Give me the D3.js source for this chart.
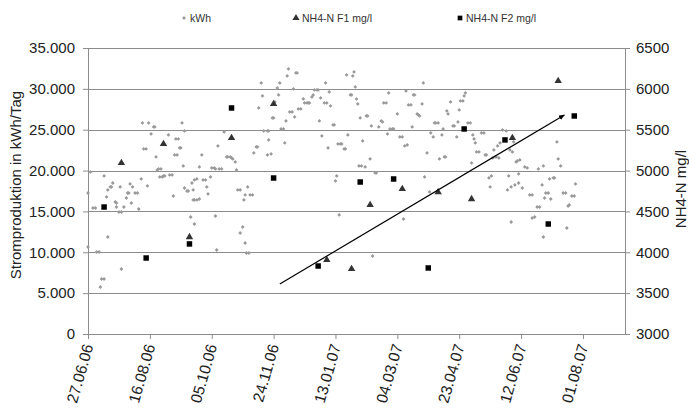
<!DOCTYPE html>
<html lang="de">
<head>
<meta charset="UTF-8">
<title>Stromproduktion und NH4-N</title>
<style>
    body{
        margin:0;
        background:#fff;
    }
    svg text{
        font-family:"Liberation Sans", Arial, sans-serif;
        fill:#222;
    }
</style>
</head>
<body>
<script src="https://d3js.org/d3.v7.min.js"></script>
<script>

    var tickLabels = ["27.06.06","16.08.06","05.10.06","24.11.06","13.01.07","04.03.07","23.04.07","12.06.07","01.08.07"];
    var kwhTicks = [0,5000,10000,15000,20000,25000,30000,35000];
    var nh4Ticks = [3000,3500,4000,4500,5000,5500,6000,6500];
    var seriesNames = ["kWh","NH4-N F1 mg/l","NH4-N F2 mg/l"];

    // [days since 27.06.06, kWh/Tag]
    var kwh = [[0,17258],[0,10649],[2,19829],[4,15422],[6,15422],[7,10037],[9,10037],[10,5753],[11,6732],[13,6732],[13,19339],[15,16769],[16,17626],[16,11873],[18,17993],[19,17993],[20,18482],[22,16157],[23,16034],[23,15545],[25,14933],[26,17993],[27,14933],[27,7956],[29,15545],[31,16646],[32,17258],[33,17258],[34,18360],[35,16034],[36,17993],[38,17258],[40,17258],[41,15300],[43,18972],[44,25826],[45,22644],[47,22644],[48,18115],[49,25826],[51,24480],[53,25337],[54,25337],[55,21665],[56,20074],[57,20196],[58,19217],[59,20196],[60,19217],[61,19339],[62,19339],[65,24358],[66,19462],[68,19462],[69,16891],[70,21910],[71,23868],[72,21910],[73,23868],[74,22766],[75,22766],[76,25826],[77,20563],[78,24847],[78,17870],[80,17503],[81,17503],[83,14321],[84,18482],[85,17626],[85,16402],[86,16402],[86,13464],[86,18850],[88,16402],[88,18972],[90,16524],[90,20441],[92,21910],[93,18850],[95,18850],[96,17993],[97,17136],[99,19217],[100,20318],[102,20318],[103,20196],[103,14443],[104,10282],[105,23011],[106,20196],[108,20196],[110,24725],[112,21665],[113,21665],[115,21665],[116,21542],[117,21420],[119,21053],[120,20074],[121,17626],[123,17626],[123,12362],[125,13097],[126,16402],[127,11138],[127,17014],[128,9914],[129,17993],[130,9914],[131,17014],[133,17014],[134,22154],[136,22889],[137,22889],[138,27662],[140,30722],[141,29131],[142,24847],[145,24847],[146,24847],[145,21910],[146,23746],[148,22032],[149,26438],[150,26438],[151,28397],[153,30110],[154,29254],[155,30722],[156,25092],[158,25092],[159,23378],[160,26071],[161,31579],[162,32436],[163,27173],[165,27173],[166,29988],[167,26561],[168,31946],[169,31946],[170,27540],[172,27540],[174,28764],[175,28274],[177,28274],[178,28274],[179,28274],[181,29009],[182,29254],[183,29866],[185,29866],[186,29866],[187,26071],[188,28886],[189,24235],[191,28274],[192,30722],[193,28274],[194,22766],[195,29621],[196,27907],[198,25582],[199,25582],[200,18727],[201,19339],[202,23256],[203,14566],[204,23256],[205,23256],[207,22644],[208,22644],[209,31702],[210,24358],[212,29254],[213,29254],[214,31579],[215,32069],[216,30233],[217,28764],[218,28152],[219,20563],[220,26438],[221,20563],[222,23623],[224,20441],[225,26683],[226,26683],[228,21420],[229,25459],[230,9547],[232,19706],[233,19706],[235,25337],[237,26071],[238,25949],[239,28274],[241,28274],[242,24480],[243,29498],[244,25092],[246,25092],[247,25092],[250,26928],[252,24113],[254,24113],[255,14076],[256,23011],[257,29743],[258,23134],[259,28030],[261,28030],[262,25337],[263,29254],[264,29254],[266,26928],[267,26806],[268,26683],[270,28152],[271,30722],[272,19217],[274,22154],[276,17381],[277,24602],[279,24113],[280,25826],[281,25826],[283,25826],[284,21420],[286,24358],[287,25092],[288,21665],[289,21665],[290,27295],[291,26928],[293,28397],[295,25459],[296,25459],[298,24113],[299,25949],[300,27418],[301,28519],[303,28519],[304,29131],[305,29498],[307,25826],[309,25826],[310,20930],[311,24358],[312,23868],[313,23378],[314,22277],[316,22277],[318,24602],[320,24602],[321,21910],[322,21910],[324,19094],[325,17993],[326,19339],[327,21542],[328,22522],[329,21665],[330,21665],[331,23011],[332,21542],[333,23378],[335,24970],[338,24847],[339,17626],[340,19339],[341,22522],[342,17993],[342,13709],[343,22277],[344,23501],[345,18238],[346,21053],[347,21175],[348,19584],[348,18482],[349,21298],[351,17870],[353,20441],[355,20318],[357,17014],[359,17014],[359,14198],[361,14321],[363,15545],[364,20196],[365,15545],[367,18238],[368,20563],[368,11873],[369,16646],[370,17258],[372,17258],[373,18972],[374,16524],[376,19094],[377,19094],[379,23501],[380,21420],[382,20563],[384,17258],[386,17258],[387,12974],[388,15667],[389,15790],[391,16891],[393,16891],[394,18360]];

    var f1Days = [27,61,82,116,150,193,213,228,254,283,310,343,380];
    var f1Values = [5093,5326,4187,5399,5815,3906,3796,4579,4775,4738,4652,5399,6097];

    var f2Days = [13,47,82,116,150,186,220,247,275,304,337,372,393];
    var f2Values = [4554,3930,4102,5766,4909,3832,4860,4897,3808,5509,5375,4346,5668];

    // trend arrow, [day, mg/l]
    var trend = [[155,3612],[385,5680]];

    var width = 689,
        height = 410;
    var margin = {top:48, right:64, bottom:76, left:88};
    var w = width - margin.left - margin.right,
        h = height - margin.top - margin.bottom;

    var parseDate = d3.timeParse("%d.%m.%y");
    var start = parseDate(tickLabels[0]);
    function day(n){ return d3.timeDay.offset(start, n); }

    var x = d3.scaleTime().domain([start, day(434)]).range([0, w]);
    var y = d3.scaleLinear().domain([0, 35000]).range([h, 0]);
    var y2 = d3.scaleLinear().domain([3000, 6500]).range([h, 0]);

    var de = d3.formatLocale({decimal:",", thousands:".", grouping:[3], currency:["","€"]});

    var svg = d3.select("body").append("svg")
            .attr("width", width)
            .attr("height", height);

    svg.append("defs").append("marker")
            .attr("id","arrow")
            .attr("markerUnits","userSpaceOnUse")
            .attr("markerWidth",6).attr("markerHeight",5)
            .attr("refX",5.5).attr("refY",2.5)
            .attr("orient","auto")
            .append("path")
            .attr("d","M0,0L6,2.5L0,5Z")
            .style("fill","#000");

    var g = svg.append("g")
            .attr("transform","translate("+margin.left+","+margin.top+")");

    g.append("g").selectAll("line")
            .data(kwhTicks).enter().append("line")
            .attr("x1",0).attr("x2",w)
            .attr("y1",function(d){return Math.round(y(d))+0.5})
            .attr("y2",function(d){return Math.round(y(d))+0.5})
            .style("stroke","#8c8c8c");

    var yAxis = g.append("g")
            .call(d3.axisLeft(y).tickValues(kwhTicks).tickSize(5).tickSizeOuter(0).tickPadding(8).tickFormat(de.format(",d")));

    var y2Axis = g.append("g")
            .attr("transform","translate("+w+",0)")
            .call(d3.axisRight(y2).tickValues(nh4Ticks).tickSize(5).tickSizeOuter(0).tickPadding(6).tickFormat(d3.format("d")));

    var xAxis = g.append("g")
            .attr("transform","translate(0,"+h+")")
            .call(d3.axisBottom(x).tickValues(tickLabels.map(parseDate)).tickSize(5).tickSizeOuter(0).tickFormat(d3.timeFormat("%d.%m.%y")));

    [yAxis, y2Axis, xAxis].forEach(function(a){
        a.selectAll("path, line").style("stroke","#8c8c8c");
        a.selectAll("text").style("font-size","15px").style("fill","#222");
    });

    xAxis.selectAll("text")
            .attr("x",0).attr("y",0).attr("dy",0)
            .attr("text-anchor","end")
            .attr("transform","translate(5,12) rotate(-74)")
            .style("font-size","15.5px");

    g.selectAll(".kwh")
            .data(kwh).enter().append("path")
            .attr("class","kwh")
            .attr("transform",function(d){return "translate("+x(day(d[0]))+","+y(d[1])+")"})
            .attr("d","M0,-1.9L1.9,0L0,1.9L-1.9,0Z")
            .style("fill","#9a9a9a");

    g.selectAll(".f1")
            .data(f1Days).enter().append("path")
            .attr("class","f1")
            .attr("transform",function(d,i){return "translate("+x(day(d))+","+y2(f1Values[i])+")"})
            .attr("d",d3.symbol().type(d3.symbolTriangle).size(24))
            .style("fill","#333");

    g.selectAll(".f2")
            .data(f2Days).enter().append("path")
            .attr("class","f2")
            .attr("transform",function(d,i){return "translate("+x(day(d))+","+y2(f2Values[i])+")"})
            .attr("d",d3.symbol().type(d3.symbolSquare).size(30))
            .style("fill","#000");

    g.append("line")
            .attr("x1",x(day(trend[0][0]))).attr("y1",y2(trend[0][1]))
            .attr("x2",x(day(trend[1][0]))).attr("y2",y2(trend[1][1]))
            .style("stroke","#000")
            .style("stroke-width",1.2)
            .attr("marker-end","url(#arrow)");

    svg.append("text")
            .attr("transform","translate(21,185) rotate(-90)")
            .attr("text-anchor","middle")
            .style("font-size","15px")
            .text("Stromproduktion in kWh/Tag");

    svg.append("text")
            .attr("transform","translate(686,189) rotate(-90)")
            .attr("text-anchor","middle")
            .style("font-size","15px")
            .text("NH4-N mg/l");

    // legend
    var legX = [184, 296, 460];
    var legend = svg.append("g").attr("transform","translate(0,18)");
    var shapes = [
        function(s){ return s.append("path").attr("d","M0,-1.9L1.9,0L0,1.9L-1.9,0Z").style("fill","#9a9a9a"); },
        function(s){ return s.append("path").attr("d",d3.symbol().type(d3.symbolTriangle).size(22)).style("fill","#333"); },
        function(s){ return s.append("path").attr("d",d3.symbol().type(d3.symbolSquare).size(22)).style("fill","#000"); }
    ];
    seriesNames.forEach(function(name,i){
        var item = legend.append("g").attr("transform","translate("+legX[i]+",0)");
        shapes[i](item);
        item.append("text")
                .attr("x",6).attr("dy","0.36em")
                .style("font-size","10.5px")
                .style("fill","#333")
                .text(name);
    });

</script>
</body>
</html>
